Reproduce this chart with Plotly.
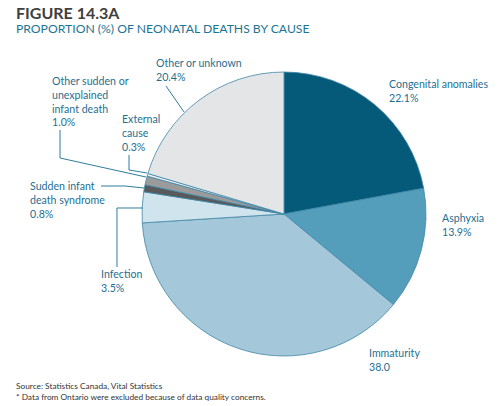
import plotly.graph_objects as go

# Neonatal deaths by cause (%), clockwise from 12 o'clock
causes = ['Congenital anomalies', 'Asphyxia', 'Immaturity', 'Infection',
          'Sudden infant death syndrome', 'Other sudden or unexplained infant death',
          'External cause', 'Other or unknown']
shares = [22.1, 13.9, 38.0, 3.5, 0.8, 1.0, 0.3, 20.4]
label_texts = ['Congenital anomalies<br>22.1%', 'Asphyxia<br>13.9%', 'Immaturity<br>38.0',
               'Infection<br>3.5%', 'Sudden infant<br>death syndrome<br>0.8%',
               'Other sudden or<br>unexplained<br>infant death<br>1.0%',
               'External<br>cause<br>0.3%', 'Other or unknown<br>20.4%']
colors = ['#055a7a', '#549dbb', '#a4c7da', '#d0e4ee', '#58595b', '#9b9b9b', '#eef1f3', '#e4e5e7']

W, H = 501, 406
TEAL = '#1f6f8f'


def px(x):
    return x / W


def py(y):
    return 1 - y / H


# pie placement in pixels
cx, cy, r = 284, 214, 142

fig = go.Figure()
fig.add_trace(go.Pie(
    labels=causes,
    values=shares,
    sort=False,
    direction='clockwise',
    rotation=0,
    marker=dict(colors=colors, line=dict(color='#3f87a6', width=0.8)),
    textinfo='none',
    hoverinfo='label+value',
    showlegend=False,
    domain=dict(x=[px(cx - r), px(cx + r)], y=[py(cy + r), py(cy - r)]),
))

# label anchor (left, top) in pixels
label_pos = [(387, 76), (440, 210), (367, 345), (99, 266), (28, 178), (50, 73), (120, 111), (154, 55)]
for txt, (lx, ly) in zip(label_texts, label_pos):
    fig.add_annotation(x=px(lx), y=py(ly), xref='paper', yref='paper', text=txt,
                       showarrow=False, xanchor='left', yanchor='top', align='left',
                       font=dict(family='Lato', size=10.6, color=TEAL))

# leader lines (pixel polylines)
leaders = [
    [(166, 86), (184, 112)],
    [(60, 130), (60, 158), (146, 177)],
    [(129, 155), (129, 170), (147, 173)],
    [(101, 186), (125, 186), (144, 188)],
    [(117, 267), (117, 208), (143, 208)],
]
for pts in leaders:
    path = 'M ' + ' L '.join(f'{px(x):.4f},{py(y):.4f}' for x, y in pts)
    fig.add_shape(type='path', path=path, xref='paper', yref='paper',
                  line=dict(color='#2f7d9c', width=1))

fig.add_annotation(x=px(14), y=py(1), xref='paper', yref='paper', text='<b>FIGURE 14.3A</b>',
                   showarrow=False, xanchor='left', yanchor='top',
                   font=dict(family='Lato', size=16, color='#404040'))
fig.add_annotation(x=px(14), y=py(19), xref='paper', yref='paper',
                   text='PROPORTION (%) OF NEONATAL DEATHS BY CAUSE',
                   showarrow=False, xanchor='left', yanchor='top',
                   font=dict(family='Lato', size=12.2, color='#1d7595'))
fig.add_annotation(x=px(14), y=py(379), xref='paper', yref='paper',
                   text='Source: Statistics Canada, Vital Statistics<br>'
                        '* Data from Ontario were excluded because of data quality concerns.',
                   showarrow=False, xanchor='left', yanchor='top', align='left',
                   font=dict(family='Lato', size=8.3, color='#333333'))

fig.update_layout(
    width=W, height=H,
    margin=dict(l=0, r=0, t=0, b=0),
    paper_bgcolor='white',
    plot_bgcolor='white',
)

fig.write_html('out.html', config={'displayModeBar': False},
               post_script="document.body.style.margin='0';")
